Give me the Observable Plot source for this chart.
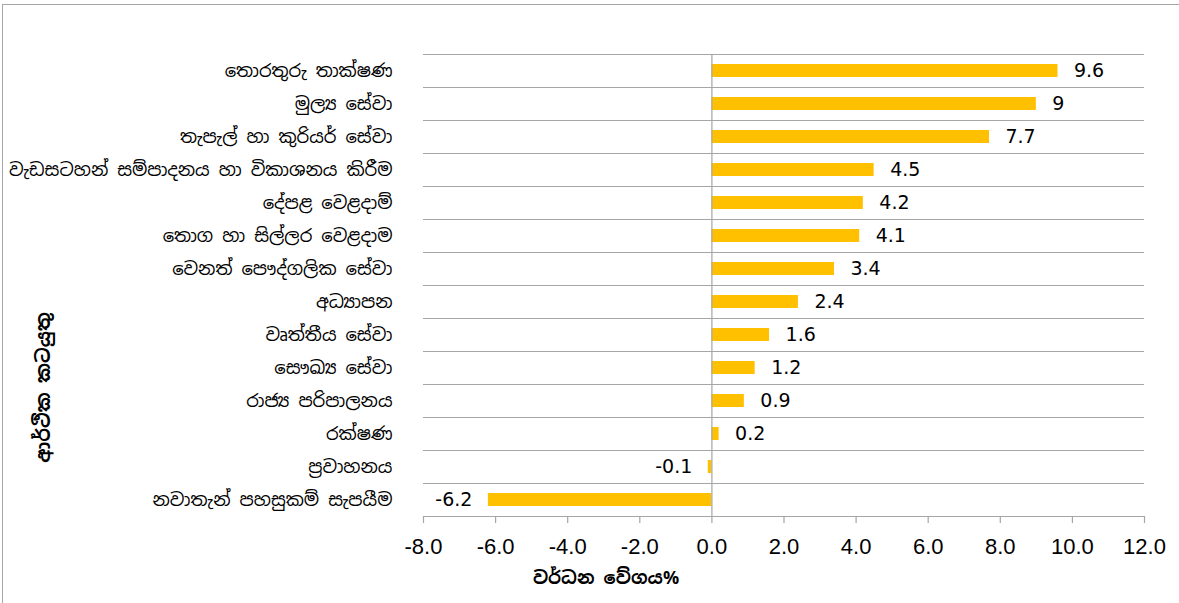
<!DOCTYPE html>
<html>
<head>
<meta charset="utf-8">
<script src="https://cdn.jsdelivr.net/npm/d3@7"></script>
<script src="https://cdn.jsdelivr.net/npm/@observablehq/plot@0.6"></script>
<style>
  html, body { margin: 0; padding: 0; background: #fff; }
  #wrap { position: relative; width: 1179px; height: 603px; overflow: hidden; }
  #border { position: absolute; left: 2px; top: 4px; width: 1200px; height: 620px;
            border-left: 1px solid #a6a6a6; border-top: 1px solid #a6a6a6; pointer-events: none; }
  #chart { position: absolute; left: 0; top: 0; }
</style>
</head>
<body>
<div id="wrap"><div id="chart"></div><div id="border"></div></div>
<script>
const categories = [
  "තොරතුරු තාක්ෂණ",
  "මුල්‍ය සේවා",
  "තැපැල් හා කුරියර් සේවා",
  "වැඩසටහන් සම්පාදනය හා විකාශනය කිරීම",
  "දේපළ වෙළදාම්",
  "තොග හා සිල්ලර වෙළදාම",
  "වෙනත් පෞද්ගලික සේවා",
  "අධ්‍යාපන",
  "වෘත්තීය සේවා",
  "සෞඛ්‍ය සේවා",
  "රාජ්‍ය පරිපාලනය",
  "රක්ෂණ",
  "ප්‍රවාහනය",
  "නවාතැන් පහසුකම් සැපයීම"
];
const values = [9.6, 9, 7.7, 4.5, 4.2, 4.1, 3.4, 2.4, 1.6, 1.2, 0.9, 0.2, -0.1, -6.2];
const xTicks = [-8, -6, -4, -2, 0, 2, 4, 6, 8, 10, 12];
const xTitle = "වර්ධන වේගය%";
const yTitle = "ආර්ථික කටයුතු";

const data = categories.map((c, i) => ({category: c, value: values[i]}));

const sinhala = "'Noto Sans Sinhala', 'Iskoola Pota', 'Noto Sans', sans-serif";
const gridColor = "#a6a6a6";
const half = (603 - 54 - 87) / categories.length / 2;

const chart = Plot.plot({
  width: 1179,
  height: 603,
  marginLeft: 423,
  marginRight: 35,
  marginTop: 54,
  marginBottom: 87,
  style: {background: "transparent", color: "#000"},
  x: {domain: [-8, 12], label: null},
  y: {domain: categories, padding: 0, label: null},
  marks: [
    Plot.ruleY(categories, {y: d => d, dy: -half, stroke: gridColor, strokeWidth: 1.2}),
    Plot.ruleY(categories.slice(-1), {y: d => d, dy: half, stroke: gridColor, strokeWidth: 1.2}),
    Plot.barX(data, {x: "value", y: "category", fill: "#FFC000", insetTop: 10, insetBottom: 10}),
    Plot.ruleX([0], {stroke: gridColor, strokeWidth: 1.2}),
    Plot.axisX({ticks: xTicks, tickSize: 7, tickFormat: () => "", stroke: gridColor, strokeWidth: 1.2}),
    Plot.axisX({ticks: xTicks, tickSize: 0, tickPadding: 22, tickFormat: d => d.toFixed(1),
      fontSize: 22, fontFamily: "'Liberation Sans Narrow', 'Liberation Sans', sans-serif", fill: "#000"}),
    Plot.axisY({tickSize: 0, tickPadding: 31, fontSize: 18, fontFamily: sinhala, fill: "#000"}),
    Plot.text(data, {filter: d => d.value >= 0, x: "value", y: "category", text: d => String(d.value),
      textAnchor: "start", dx: 16, fontSize: 19, fontFamily: "'DejaVu Sans', sans-serif", fill: "#000"}),
    Plot.text(data, {filter: d => d.value < 0, x: "value", y: "category", text: d => String(d.value),
      textAnchor: "end", dx: -16, fontSize: 19, fontFamily: "'DejaVu Sans', sans-serif", fill: "#000"}),
    Plot.text([xTitle], {frameAnchor: "bottom", dx: -178, dy: 62, text: d => d,
      textAnchor: "middle", lineAnchor: "middle",
      fontSize: 18, fontWeight: "bold", fontFamily: sinhala, fill: "#000"}),
    Plot.text([yTitle], {frameAnchor: "left", dx: -380, dy: 102, rotate: -90, text: d => d,
      textAnchor: "middle", lineAnchor: "middle",
      fontSize: 19, fontWeight: "bold", fontFamily: sinhala, fill: "#000"})
  ]
});
document.getElementById("chart").appendChild(chart);
</script>
</body>
</html>
